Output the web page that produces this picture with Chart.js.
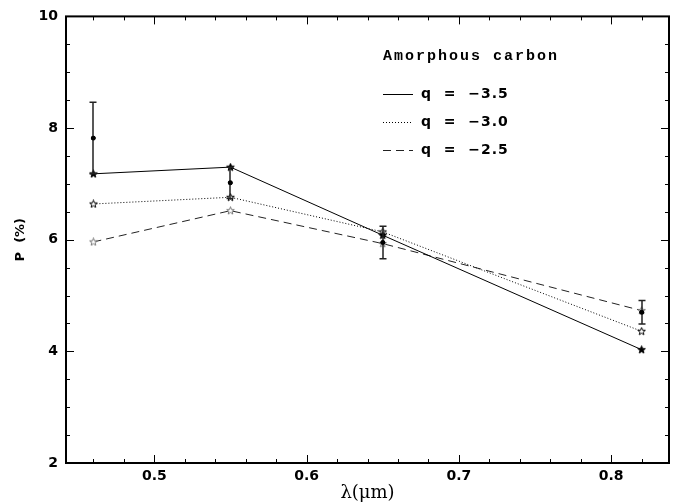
<!DOCTYPE html>
<html>
<head>
<meta charset="utf-8">
<script src="https://cdn.jsdelivr.net/npm/chart.js@4.4.1/dist/chart.umd.min.js"></script>
<style>
  html, body { margin: 0; padding: 0; background: #fff; }
  canvas { display: block; }
</style>
</head>
<body>
<canvas id="polChart" width="682" height="504"></canvas>
<script>
// Datos
const wavelengths = [0.46, 0.55, 0.65, 0.82];
const pQ35 = [7.18, 7.30, 6.08, 4.03];   // q = -3.5 (línea continua)
const pQ30 = [6.64, 6.76, 6.14, 4.36];   // q = -3.0 (punteada)
const pQ25 = [5.96, 6.52, 5.93, 4.73];   // q = -2.5 (discontinua)
const pObs = [7.82, 7.02, 5.95, 4.70];   // observaciones
const pErr = [0.64, 0.28, 0.29, 0.21];   // barras de error

const seriesLabels = ['q = \u22123.5', 'q = \u22123.0', 'q = \u22122.5'];
const legendTitle = 'Amorphous carbon';
const xTickValues = [0.5, 0.6, 0.7, 0.8];
const yTickValues = [2, 4, 6, 8, 10];

const TICK_FONT = { family: '"DejaVu Sans", sans-serif', size: 14, weight: 'bold' };

// estrella de cinco puntas como imagen para pointStyle
function makeStar(fill, stroke) {
    const c = document.createElement('canvas');
    c.width = 9; c.height = 9;
    const g = c.getContext('2d');
    g.beginPath();
    for (let k = 0; k < 10; k++) {
        const r = k % 2 ? 1.7 : 4;
        const a = -Math.PI / 2 + k * Math.PI / 5;
        g.lineTo(4.5 + r * Math.cos(a), 4.7 + r * Math.sin(a));
    }
    g.closePath();
    if (fill) { g.fillStyle = fill; g.fill(); }
    g.lineWidth = 1;
    g.strokeStyle = stroke;
    g.stroke();
    return c;
}

const starSolid = makeStar('#000', '#000');
const starOpen = makeStar('#fff', '#000');
const starLight = makeStar('#fff', '#777');

function pts(ys) {
    return wavelengths.map((w, i) => ({ x: w, y: ys[i] }));
}

// marco, ticks menores/mayores hacia adentro
const framePlugin = {
    id: 'frame',
    afterDraw(chart) {
        const { ctx, chartArea: a, scales: { x, y } } = chart;
        ctx.save();
        ctx.strokeStyle = '#000';
        ctx.lineWidth = 1;
        const seg = (x1, y1, x2, y2) => { ctx.beginPath(); ctx.moveTo(x1, y1); ctx.lineTo(x2, y2); ctx.stroke(); };
        for (let k = 0; ; k++) {
            const v = 0.46 + k * 0.02;
            if (v > x.max) break;
            const px = Math.round(x.getPixelForValue(v)) + 0.5;
            const major = Math.abs(v * 10 - Math.round(v * 10)) < 1e-6;
            const len = major ? 8 : 4;
            seg(px, a.bottom, px, a.bottom - len);
            seg(px, a.top, px, a.top + len);
        }
        for (let k = 0; ; k++) {
            const v = 2 + k * 0.5;
            if (v > y.max) break;
            const py = Math.round(y.getPixelForValue(v)) + 0.5;
            const major = v % 2 === 0;
            const len = major ? 8 : 4;
            seg(a.left, py, a.left + len, py);
            seg(a.right, py, a.right - len, py);
        }
        ctx.lineWidth = 2;
        ctx.strokeRect(a.left, a.top, a.right - a.left, a.bottom - a.top);
        ctx.restore();
    }
};

// barras de error de las observaciones
const errorBarPlugin = {
    id: 'errorBars',
    afterDatasetsDraw(chart) {
        const { ctx, scales: { x, y } } = chart;
        ctx.save();
        ctx.strokeStyle = '#222';
        ctx.lineWidth = 1.5;
        wavelengths.forEach((w, i) => {
            const px = Math.round(x.getPixelForValue(w));
            const top = y.getPixelForValue(pObs[i] + pErr[i]);
            const bot = y.getPixelForValue(pObs[i] - pErr[i]);
            ctx.beginPath();
            ctx.moveTo(px, top); ctx.lineTo(px, bot);
            ctx.moveTo(px - 3.5, top); ctx.lineTo(px + 3.5, top);
            ctx.moveTo(px - 3.5, bot); ctx.lineTo(px + 3.5, bot);
            ctx.stroke();
            ctx.beginPath();
            ctx.fillStyle = '#000';
            ctx.arc(px, y.getPixelForValue(pObs[i]), 2.2, 0, Math.PI * 2);
            ctx.fill();
        });
        ctx.restore();
    }
};

// leyenda dentro del área del gráfico
const legendPlugin = {
    id: 'innerLegend',
    afterDraw(chart) {
        const ctx = chart.ctx;
        ctx.save();
        ctx.fillStyle = '#000';
        ctx.textBaseline = 'middle';
        ctx.textAlign = 'left';
        ctx.font = 'bold 15px "Liberation Mono", monospace';
        ctx.letterSpacing = '2px';
        ctx.fillText(legendTitle, 383, 56);
        ctx.font = 'bold 14px "DejaVu Sans", sans-serif';
        ctx.letterSpacing = '1px';
        const rows = [94, 122, 150];
        seriesLabels.forEach((lab, i) => {
            const ds = chart.data.datasets[i];
            ctx.beginPath();
            ctx.setLineDash(ds.borderDash || []);
            ctx.lineWidth = 1;
            ctx.strokeStyle = ds.borderColor;
            ctx.moveTo(383, rows[i] + 0.5);
            ctx.lineTo(413, rows[i] + 0.5);
            ctx.stroke();
            ctx.setLineDash([]);
            ctx.fillText(lab.replace(/ /g, '  '), 421, rows[i]);
        });
        ctx.restore();
    }
};

new Chart(document.getElementById('polChart'), {
    type: 'scatter',
    data: {
        datasets: [
            {
                label: seriesLabels[0],
                data: pts(pQ35),
                showLine: true,
                borderColor: '#000',
                borderWidth: 1,
                pointStyle: starSolid,
                pointRadius: 4
            },
            {
                label: seriesLabels[1],
                data: pts(pQ30),
                showLine: true,
                borderColor: '#000',
                borderWidth: 1,
                borderDash: [1, 2],
                pointStyle: starOpen,
                pointRadius: 4
            },
            {
                label: seriesLabels[2],
                data: pts(pQ25),
                showLine: true,
                borderColor: '#222',
                borderWidth: 1,
                borderDash: [8, 5],
                pointStyle: starLight,
                pointRadius: 4
            },
            {
                label: 'obs',
                data: pts(pObs),
                showLine: false,
                pointStyle: 'circle',
                pointRadius: 2,
                backgroundColor: '#000',
                borderColor: '#000',
                order: -1
            }
        ]
    },
    options: {
        responsive: false,
        animation: false,
        devicePixelRatio: 1,
        layout: { padding: { left: 0, top: 15, right: 13, bottom: 0 } },
        plugins: {
            legend: { display: false },
            tooltip: { enabled: false }
        },
        scales: {
            x: {
                type: 'linear',
                min: 0.442,
                max: 0.838,
                grid: { display: false, drawTicks: false },
                border: { display: false },
                afterBuildTicks: s => { s.ticks = xTickValues.map(v => ({ value: v })); },
                afterFit: s => { s.height = 41; },
                ticks: {
                    color: '#000',
                    font: TICK_FONT,
                    padding: 5,
                    maxRotation: 0,
                    callback: v => v.toFixed(1)
                },
                title: {
                    display: true,
                    text: '\u03bb(\u03bcm)',
                    color: '#000',
                    font: { family: '"DejaVu Serif", serif', size: 18 },
                    padding: { top: 0, bottom: 0 }
                }
            },
            y: {
                min: 2,
                max: 10,
                grid: { display: false, drawTicks: false },
                border: { display: false },
                afterBuildTicks: s => { s.ticks = yTickValues.map(v => ({ value: v })); },
                afterFit: s => { s.width = 66; },
                ticks: {
                    color: '#000',
                    font: TICK_FONT,
                    padding: 8
                },
                title: {
                    display: true,
                    text: 'P  (%)',
                    color: '#000',
                    font: { family: '"DejaVu Sans", sans-serif', size: 13, weight: 'bold' },
                    padding: { top: 13, bottom: 4 }
                }
            }
        }
    },
    plugins: [framePlugin, errorBarPlugin, legendPlugin]
});
</script>
</body>
</html>
